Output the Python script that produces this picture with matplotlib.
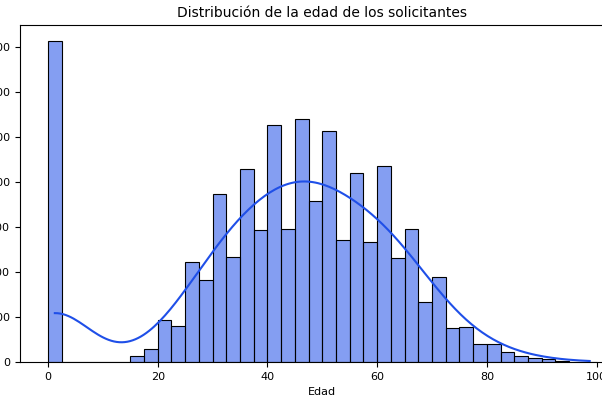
import numpy as np
import pandas as pd
import matplotlib
matplotlib.use("Agg")
import matplotlib.pyplot as plt
import seaborn as sns

# Age histogram (bin width 2.5, from 0 to 100)
bin_edges = list(np.arange(0, 100.01, 2.5))
counts = [3567, 5, 0, 0, 0, 0, 67, 144, 467, 400,
          1111, 911, 1867, 1167, 2144, 1467, 2633, 1478, 2700, 1789,
          2567, 1356, 2100, 1333, 2178, 1156, 1478, 667, 944, 378,
          389, 200, 200, 111, 67, 44, 33, 11, 3, 3]
centers = [(a + b) / 2 for a, b in zip(bin_edges[:-1], bin_edges[1:])]
df = pd.DataFrame({"edad": centers, "n": counts})

fig = plt.figure(figsize=(6.02, 4.01), dpi=100)
W, H = 602, 401
ax = fig.add_axes([20 / W, 1 - 362 / H, 604 / W, 337 / H])

sns.histplot(data=df, x="edad", weights="n", bins=bin_edges, kde=True,
             color="#1f4fe8", alpha=0.55, edgecolor="black", linewidth=0.8,
             kde_kws={"bw_adjust": 0.6}, ax=ax)
ax.lines[0].set_linewidth(1.5)

ax.set_xlim(-5.1, 105)
ax.set_ylim(0, 3750)
ax.set_yticks(np.arange(0, 3501, 500))
ax.set_xticks([0, 20, 40, 60, 80, 100])
ax.set_title("Distribución de la edad de los solicitantes", fontsize=10)
ax.set_xlabel("Edad", fontsize=8)
ax.set_ylabel("")
ax.tick_params(labelsize=8)

fig.savefig("out.png", dpi=100)
